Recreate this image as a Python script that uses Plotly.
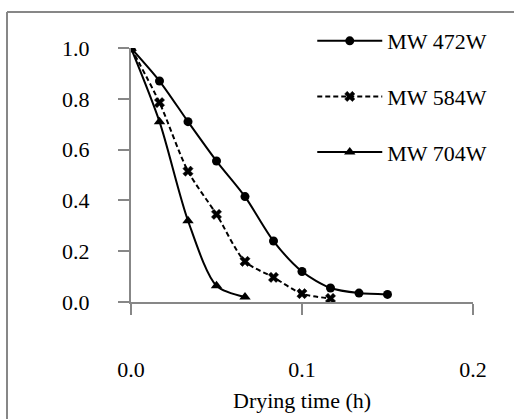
import plotly.graph_objects as go

time_h = [0.0, 1/60, 2/60, 3/60, 4/60, 5/60, 6/60, 7/60, 8/60, 9/60]
mw472 = [1.0, 0.87, 0.71, 0.555, 0.415, 0.24, 0.12, 0.055, 0.035, 0.03]
mw584 = [1.0, 0.785, 0.515, 0.345, 0.16, 0.097, 0.033, 0.014]
mw704 = [1.0, 0.71, 0.32, 0.064, 0.02]
x_ticks = [0.0, 0.1, 0.2]
x_tick_labels = ["0.0", "0.1", "0.2"]
y_ticks = [0.0, 0.2, 0.4, 0.6, 0.8, 1.0]
y_tick_labels = ["0.0", "0.2", "0.4", "0.6", "0.8", "1.0"]

FONT = "Liberation Serif, Times New Roman, serif"
AX = "#878787"

fig = go.Figure()
fig.add_trace(go.Scatter(
    x=time_h[:len(mw472)], y=mw472, name="MW 472W", mode="lines+markers",
    line=dict(color="black", width=2, shape="spline", smoothing=0.8),
    marker=dict(symbol="circle", size=9, color="black"),
    legendgroup="a"))
fig.add_trace(go.Scatter(
    x=time_h[:len(mw584)], y=mw584, name="MW 584W", mode="lines+markers",
    line=dict(color="black", width=2, dash="5px,3px", shape="spline", smoothing=0.8),
    marker=dict(symbol="x", size=9, color="black", line=dict(width=0.5, color="black")),
    legendgroup="b"))
fig.add_trace(go.Scatter(
    x=time_h[:len(mw704)], y=mw704, name="MW 704W", mode="lines+markers",
    line=dict(color="black", width=2, shape="spline", smoothing=0.8),
    marker=dict(symbol="triangle-up", size=10, color="black"),
    legendgroup="c"))

top_y = (302 - 12) / 254
left_x = -124 / 342

fig.update_layout(
    width=514, height=419,
    margin=dict(l=131, r=41, t=48, b=117),
    paper_bgcolor="white", plot_bgcolor="white",
    font=dict(family=FONT, size=22, color="black"),
    showlegend=True,
    legend=dict(x=0.53, y=1.11, xanchor="left", yanchor="top",
                bgcolor="rgba(0,0,0,0)", tracegroupgap=24,
                itemwidth=65, font=dict(size=22)),
    xaxis=dict(range=[0, 0.2], tickvals=x_ticks, ticktext=x_tick_labels,
               showgrid=False, zeroline=False, showline=True, linecolor=AX, linewidth=2,
               ticks="outside", ticklen=11, tickwidth=2, tickcolor=AX,
               ticklabelstandoff=36),
    yaxis=dict(range=[0, 1], tickvals=y_ticks, ticktext=y_tick_labels,
               showgrid=False, zeroline=False, showline=True, linecolor=AX, linewidth=2,
               ticks="outside", ticklen=11, tickwidth=2, tickcolor=AX,
               ticklabelstandoff=24),
    annotations=[dict(text="Drying time (h)", xref="paper", yref="paper",
                      x=0.5, y=-0.386, xanchor="center", yanchor="middle",
                      showarrow=False, font=dict(size=22))],
    shapes=[
        dict(type="line", xref="paper", yref="paper",
             x0=left_x, y0=-1.0, x1=left_x, y1=top_y,
             line=dict(color=AX, width=2), layer="below"),
        dict(type="line", xref="paper", yref="paper",
             x0=left_x, y0=top_y, x1=2.0, y1=top_y,
             line=dict(color=AX, width=2), layer="below"),
    ],
)

fig.write_html("out.html")
